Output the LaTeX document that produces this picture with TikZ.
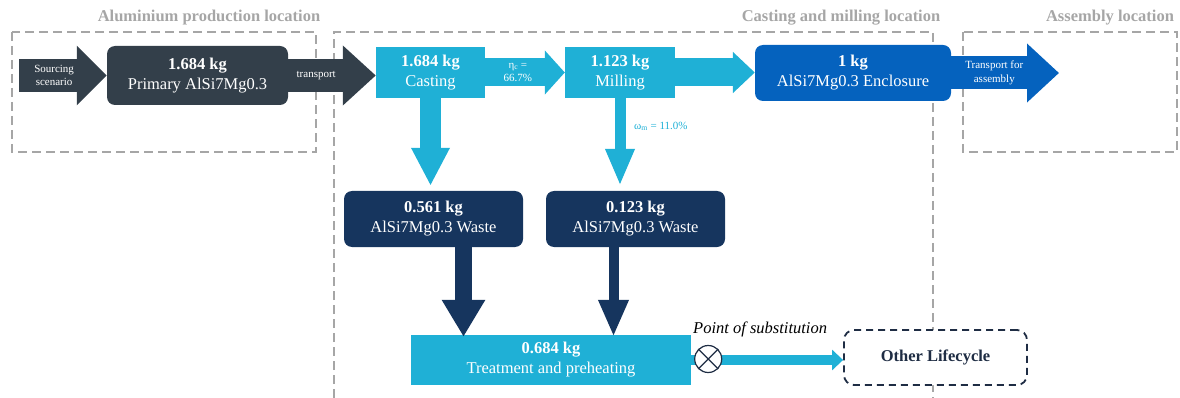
\documentclass[tikz,border=0pt]{standalone}
\usepackage{fontspec}
\setmainfont{Liberation Serif}
\usetikzlibrary{arrows.meta}

\definecolor{slate}{HTML}{333F4A}
\definecolor{aqua}{HTML}{1FB0D6}
\definecolor{royal}{HTML}{0562BE}
\definecolor{navy}{HTML}{16355E}
\definecolor{frame}{HTML}{A6A6A6}
\definecolor{ink}{HTML}{1F2D44}

\tikzset{
	box/.style = {text = white, align = center, inner sep = 0pt, font = \fontsize{16.5}{20}\selectfont},
	small/.style = {text = white, align = center, inner sep = 0pt, font = \fontsize{11}{13.5}\selectfont},
	zone/.style = {frame, line width = 2pt, dash pattern = on 9pt off 5pt},
	title/.style = {frame, font = \fontsize{16.5}{20}\selectfont\bfseries},
	flow/.style = {line width = #1}
}

\begin{document}
\begin{tikzpicture}[x = 1pt, y = -1pt]
	\useasboundingbox (0,0) rectangle (1180,398);
	% location frames
	\draw [zone] (12,32) rectangle (316,152);
	\draw [zone] (334,398) -- (334,32) -- (933,32) -- (933,398);
	\draw [zone] (963,32) rectangle (1177,152);
	\node [title] (tA) at (209,18) {Aluminium production location};
	\node [title] (tC) at (841,18) {Casting and milling location};
	\node [title] (tM) at (1110,18) {Assembly location};
	% process boxes
	\node [box, fill = slate, rounded corners = 8pt, minimum width = 181pt, minimum height = 59pt] (prim) at (197.5,75.5) {\textbf{1.684 kg}\\Primary AlSi7Mg0.3};
	\node [box, fill = aqua, minimum width = 109pt, minimum height = 51pt] (cast) at (430.5,72.5) {\textbf{1.684 kg}\\Casting};
	\node [box, fill = aqua, minimum width = 110pt, minimum height = 51pt] (mill) at (620,72.5) {\textbf{1.123 kg}\\Milling};
	\node [box, fill = royal, rounded corners = 8pt, minimum width = 196pt, minimum height = 56pt] (encl) at (853,73) {\textbf{1 kg}\\AlSi7Mg0.3 Enclosure};
	\node [box, fill = navy, rounded corners = 8pt, minimum width = 179pt, minimum height = 56pt] (wasteC) at (433.5,219) {\textbf{0.561 kg}\\AlSi7Mg0.3 Waste};
	\node [box, fill = navy, rounded corners = 8pt, minimum width = 179pt, minimum height = 56pt] (wasteM) at (635.5,219) {\textbf{0.123 kg}\\AlSi7Mg0.3 Waste};
	\node [box, fill = aqua, minimum width = 280pt, minimum height = 50pt] (treat) at (551,360) {\textbf{0.684 kg}\\Treatment and preheating};
	\node [box, text = ink, fill = white, draw = ink, line width = 1.8pt, dash pattern = on 7pt off 5pt, rounded corners = 10pt, minimum width = 183pt, minimum height = 55pt] (other) at (935.5,357.5) {\textbf{Other Lifecycle}};
	\coordinate (src) at (19,75.5);
	\coordinate (asm) at (1059,73);
	% flows
	\draw [slate, flow = 33pt, -{Triangle[length = 30pt, width = 58pt]}] (src) -- (prim.west) node [small, pos = .4] {Sourcing\\scenario};
	\draw [slate, flow = 33pt, -{Triangle[length = 33pt, width = 58pt]}] (prim.east) -- (prim.east -| cast.west) node [small, pos = .32] {transport};
	\draw [aqua, flow = 28pt, -{Triangle[length = 20pt, width = 43pt]}] (cast.east) -- (mill.west) node [small, pos = .41] {η\textsubscript{c} =\\66.7\%};
	\draw [aqua, flow = 28pt, -{Triangle[length = 22pt, width = 40pt]}] (mill.east) -- (mill.east -| encl.west);
	\draw [royal, flow = 33pt, -{Triangle[length = 32pt, width = 57pt]}] (encl.east) -- (asm) node [small, pos = .4] {Transport for\\assembly};
	\draw [aqua, flow = 21pt, -{Triangle[length = 38pt, width = 36pt]}] (cast.south) -- ([yshift = 5pt]cast.south |- wasteC.north);
	\draw [aqua, flow = 11pt, -{Triangle[length = 37pt, width = 27pt]}] (mill.south) -- ([yshift = 5pt]mill.south |- wasteM.north);
	\node [small, text = aqua, anchor = west] (omega) at ([xshift = 14pt, yshift = -28pt]mill.south) {ω\textsubscript{m} = 11.0\%};
	\draw [navy, flow = 17pt, -{Triangle[length = 37pt, width = 41pt]}] ([xshift = 30pt]wasteC.south) -- ([xshift = 30pt, yshift = -2pt]wasteC.south |- treat.north);
	\draw [navy, flow = 10pt, -{Triangle[length = 37pt, width = 28pt]}] ([xshift = -22pt]wasteM.south) -- ([xshift = -22pt, yshift = -2pt]wasteM.south |- treat.north);
	\draw [aqua, flow = 10pt, -{Triangle[length = 11pt, width = 20pt]}] (treat.east) -- (treat.east -| other.west);
	% point of substitution
	\node [circle, fill = white, draw = ink, line width = 1.2pt, minimum size = 27pt, inner sep = 0pt] (subst) at ([xshift = 17pt, yshift = 1pt]treat.east) {};
	\draw [ink, line width = 1.2pt] (subst.north west) -- (subst.south east);
	\draw [ink, line width = 1.2pt] (subst.north east) -- (subst.south west);
	\node [anchor = south west, inner sep = 0pt, font = \fontsize{16.5}{20}\selectfont\itshape] (point) at (693,337) {Point of substitution};
\end{tikzpicture}
\end{document}
